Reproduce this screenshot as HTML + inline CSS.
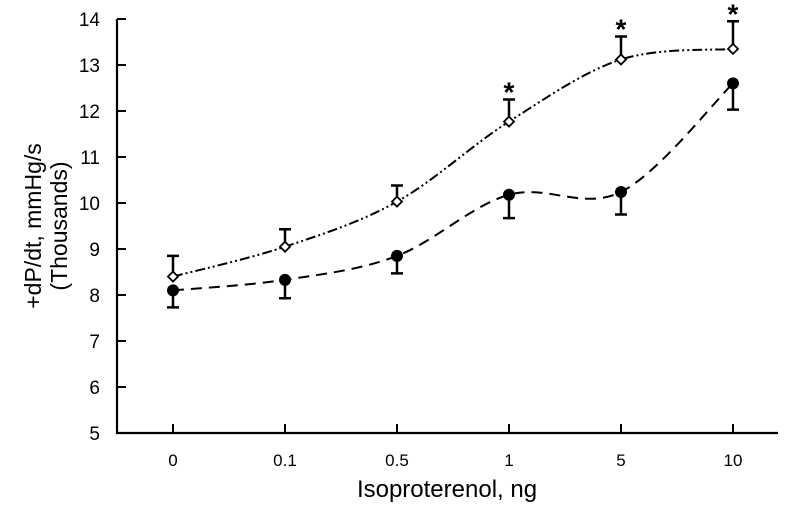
<!DOCTYPE html>
<html><head><meta charset="utf-8"><style>
body{margin:0;background:#fff}
svg text{font-family:"Liberation Sans",sans-serif;fill:#000}
</style></head><body>
<svg id="c" width="789" height="503"></svg>
<script>
const categories=["0","0.1","0.5","1","5","10"];
const yTicks=[5,6,7,8,9,10,11,12,13,14];
const seriesA=[8.4,9.05,10.03,11.77,13.12,13.35];
const seriesAErr=[8.85,9.43,10.38,12.25,13.62,13.95];
const seriesB=[8.1,8.33,8.85,10.18,10.24,12.6];
const seriesBErr=[7.73,7.93,8.47,9.67,9.75,12.03];
const significant=[false,false,false,true,true,true];
const NS="http://www.w3.org/2000/svg";
const svg=document.getElementById('c');
const X=i=>173+i*112, Y=v=>433-(v-5)*46;
function mk(t,a,p){const e=document.createElementNS(NS,t);for(const k in a)e.setAttribute(k,a[k]);(p||svg).appendChild(e);return e;}
let ax=mk('path',{d:'M117 19V433H778',fill:'none',stroke:'#000','stroke-width':2.2});


yTicks.forEach(v=>{
 let t=mk('line',{x1:117,x2:126,y1:Y(v),y2:Y(v),stroke:'#000','stroke-width':2});
 
 
 let l=mk('text',{x:100,y:Y(v)+7,'text-anchor':'end','font-size':19});l.textContent=v;
 
 
});
categories.forEach((c,i)=>{
 let t=mk('line',{x1:X(i),x2:X(i),y1:433,y2:424,stroke:'#000','stroke-width':2});
 
 
 let l=mk('text',{x:X(i),y:466,'text-anchor':'middle','font-size':17});l.textContent=c;
 
 
});
let xt=mk('text',{x:447,y:497,'text-anchor':'middle','font-size':24});xt.textContent='Isoproterenol, ng';


let yt=mk('text',{transform:'translate(41,226) rotate(-90)','text-anchor':'middle','font-size':23});


let t1=mk('tspan',{x:0,dy:0},yt);t1.textContent='+dP/dt, mmHg/s';
let t2=mk('tspan',{x:0,dy:26},yt);t2.textContent='(Thousands)';
function curve(vals){
 const p=vals.map((v,i)=>[X(i),Y(v)]);let d='M'+p[0];
 for(let i=0;i<p.length-1;i++){const a=p[i-1]||p[i],b=p[i],c=p[i+1],e=p[i+2]||c;
  d+=`C${b[0]+(c[0]-a[0])/6},${b[1]+(c[1]-a[1])/6} ${c[0]-(e[0]-b[0])/6},${c[1]-(e[1]-b[1])/6} ${c[0]},${c[1]}`;}
 return d;}
let la=mk('path',{d:curve(seriesA),fill:'none',stroke:'#000','stroke-width':2,'stroke-dasharray':'10 3 2 3 2 3'});


let lb=mk('path',{d:curve(seriesB),fill:'none',stroke:'#000','stroke-width':2,'stroke-dasharray':'11 7'});


seriesA.forEach((v,i)=>{
 let e=mk('path',{d:`M${X(i)} ${Y(v)}V${Y(seriesAErr[i])}M${X(i)-6} ${Y(seriesAErr[i])}H${X(i)+6}`,stroke:'#000','stroke-width':2.5,fill:'none'});
 
 
 let m=mk('path',{d:`M${X(i)} ${Y(v)-5}L${X(i)+5} ${Y(v)}L${X(i)} ${Y(v)+5}L${X(i)-5} ${Y(v)}Z`,fill:'#fff',stroke:'#000','stroke-width':1.8});
 
 
 if(significant[i]){let s=mk('text',{x:X(i),y:Y(seriesAErr[i])+2,'text-anchor':'middle','font-size':28,'font-weight':'bold'});s.textContent='*';
  
  }
});
seriesB.forEach((v,i)=>{
 let e=mk('path',{d:`M${X(i)} ${Y(v)}V${Y(seriesBErr[i])}M${X(i)-6} ${Y(seriesBErr[i])}H${X(i)+6}`,stroke:'#000','stroke-width':2.5,fill:'none'});
 
 
 let m=mk('circle',{cx:X(i),cy:Y(v),r:6,fill:'#000'});
 
 
});
</script>
</body></html>
